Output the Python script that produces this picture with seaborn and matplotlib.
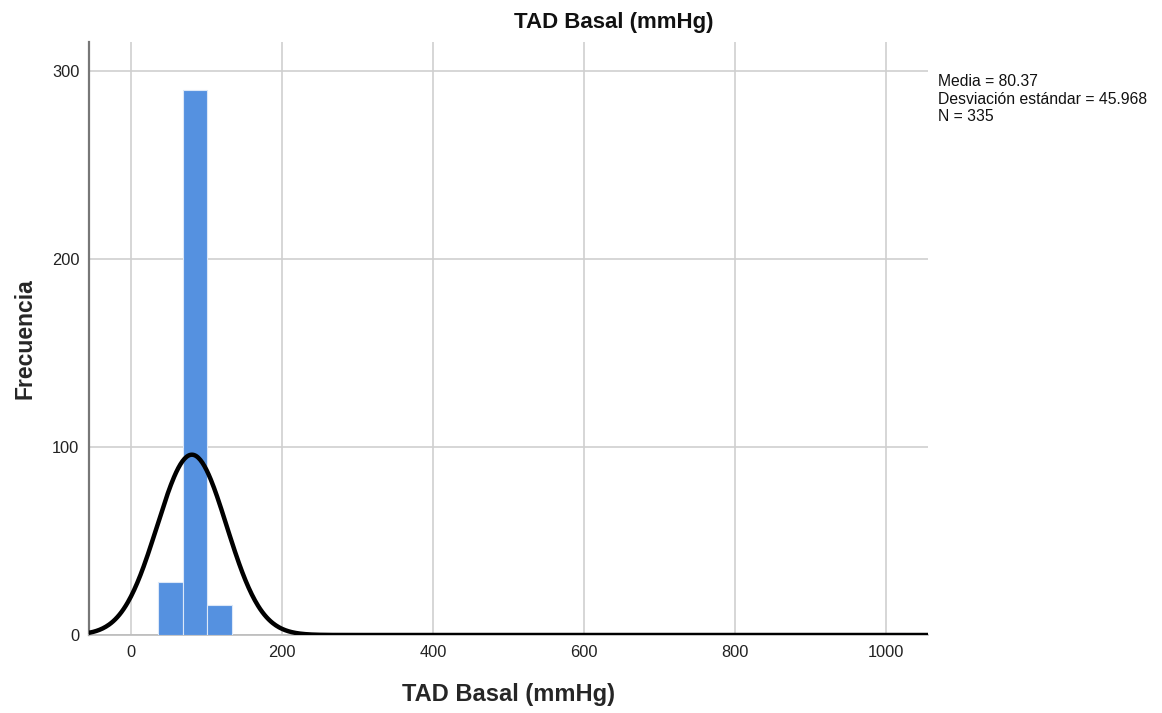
import numpy as np
import seaborn as sns
import matplotlib.pyplot as plt

sns.set_style("white")
plt.rcParams["font.family"] = ["Liberation Sans", "DejaVu Sans"]

# histogram (SPSS-style bins)
bin_edges = [35.0, 68.0, 101.0, 134.0]
counts = [28, 290, 16]
outlier_edges = [992.0, 1025.0]
outlier_count = [1]

media = 80.37
desv = 45.968
n_total = 335
bin_width = 33.0

x_ticks = [0, 200, 400, 600, 800, 1000]
y_ticks = [0, 100, 200, 300]

fig = plt.figure(figsize=(11.62, 7.13), dpi=100)
ax = fig.add_axes([0.0766, 0.1094, 0.7220, 0.8316])

centers = [(a + b) / 2 for a, b in zip(bin_edges[:-1], bin_edges[1:])]
sns.histplot(x=centers, weights=counts, bins=bin_edges, ax=ax,
             color="#5591E0", alpha=1, edgecolor="#dce8f8", linewidth=0.8,
             zorder=3)
sns.histplot(x=[sum(outlier_edges) / 2], weights=outlier_count,
             bins=outlier_edges, ax=ax, color="#5591E0", alpha=1,
             edgecolor="#dce8f8", linewidth=0.8, zorder=3)

# normal curve scaled to the histogram
xs = np.linspace(-56, 1056, 800)
ys = n_total * bin_width / (desv * np.sqrt(2 * np.pi)) * np.exp(-0.5 * ((xs - media) / desv) ** 2)
sns.lineplot(x=xs, y=ys, ax=ax, color="black", linewidth=3.2, zorder=4)

ax.set_xlim(-56, 1056)
ax.set_ylim(0, 315.5)
ax.set_xticks(x_ticks)
ax.set_yticks(y_ticks)
ax.grid(True, color="#cfcfcf", linewidth=1.2, zorder=0)
ax.set_axisbelow(True)
ax.tick_params(axis="both", length=0, labelsize=11.8, colors="#222222", pad=7)

for side in ["top", "right"]:
    ax.spines[side].set_visible(False)
ax.spines["left"].set_color("#777777")
ax.spines["left"].set_linewidth(1.6)
ax.spines["bottom"].set_color("#bbbbbb")
ax.spines["bottom"].set_linewidth(1.2)

fig.text(0.528, 0.969, "TAD Basal (mmHg)", fontsize=16, fontweight="bold",
         ha="center", va="center", color="#111111")
ax.set_xlabel("TAD Basal (mmHg)", fontsize=17, fontweight="bold", labelpad=17)
ax.set_ylabel("Frecuencia", fontsize=16.5, fontweight="bold", labelpad=11)

fig.text(0.807, 0.896, "Media = %.2f\nDesviación estándar = %.3f\nN = %d" % (media, desv, n_total),
         fontsize=11.3, va="top", ha="left", linespacing=1.2, color="#111111")

plt.savefig("out.png", dpi=100)
